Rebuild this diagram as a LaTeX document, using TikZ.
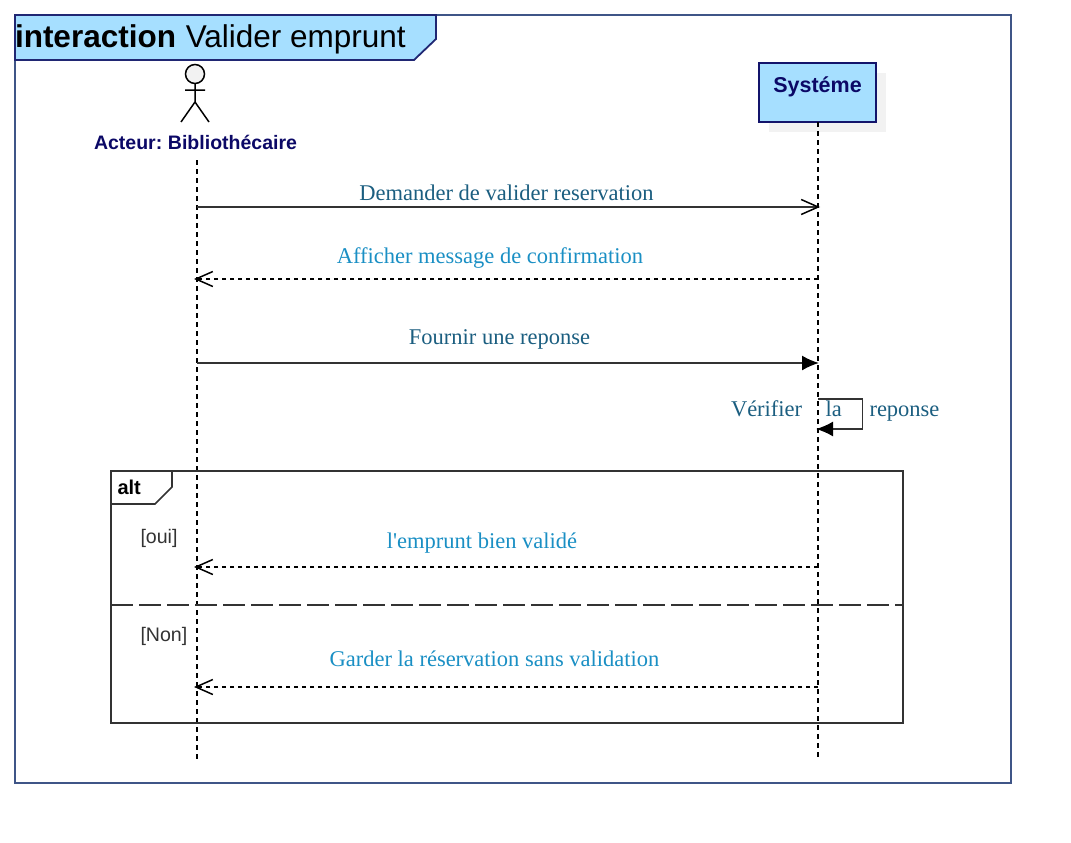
\documentclass[tikz,border=0pt]{standalone}
\usepackage{fontspec}
\setmainfont{Liberation Sans}
\newfontfamily\serifmsg{Liberation Serif}
\usetikzlibrary{arrows.meta}
\definecolor{framec}{HTML}{3F5587}
\definecolor{fillc}{HTML}{A6DFFF}
\definecolor{navyc}{HTML}{0B0866}
\definecolor{linec}{HTML}{333333}
\definecolor{msgdark}{HTML}{1B5E80}
\definecolor{msglight}{HTML}{1A8FC4}
\definecolor{shadowc}{HTML}{F2F2F2}
\tikzset{
  x=1pt,y=-1pt,
  every node/.style={outer sep=0pt},
  msgtext/.style={font=\serifmsg\fontsize{22.5}{26}\selectfont,anchor=center,inner sep=0pt},
  darkmsg/.style={msgtext,text=msgdark},
  lightmsg/.style={msgtext,text=msglight},
  guard/.style={font=\fontsize{19.6}{24}\selectfont,text=linec,anchor=west,inner sep=0pt},
  lifeline/.style={draw=black,line width=1.5pt,dash pattern=on 5pt off 4pt},
  openmsg/.style={draw=linec,line width=1.7pt,-{Straight Barb[length=17pt,width=15pt,line width=1.5pt,color=black]}},
  fullmsg/.style={draw=linec,line width=1.7pt,-{Latex[length=17pt,width=15pt,color=black]}},
  retmsg/.style={draw=black,line width=1.3pt,dash pattern=on 4pt off 4pt,-{Straight Barb[length=17pt,width=15pt,line width=1.5pt,color=black]}},
}
\begin{document}
\begin{tikzpicture}[line join=miter]
\useasboundingbox (0,0) rectangle (1071,843);
% frame
\node[draw=framec,line width=2pt,minimum width=996pt,minimum height=768pt,inner sep=0pt,anchor=north west] (frame) at (15,15) {};
\path[fill=fillc,draw=navyc!60!framec,line width=1.8pt] (15,15) -- (436,15) -- (436,39) -- (414,60) -- (15,60) -- cycle;
\node[anchor=base west,inner sep=0pt,text=black,font=\fontsize{31.5}{38}\selectfont] (title) at (15,48) {\textbf{interaction}\hspace{1pt} Valider emprunt};
% system
\fill[shadowc] (769,73) rectangle (886,132);
\node[draw=navyc!85!framec,fill=fillc,line width=1.6pt,minimum width=117pt,minimum height=59pt,inner sep=0pt,anchor=north west] (sys) at (759,63) {};
\node[anchor=center,inner sep=0pt,text=navyc,font=\bfseries\fontsize{21.5}{26}\selectfont] (systext) at (817.5,86.5) {Systéme};
% actor
\draw[draw=black,fill=shadowc,line width=1.5pt] (195,74) circle (9.5);
\draw[black,line width=1.5pt] (195,84) -- (195,102) (185,90) -- (205,90) (181,122) -- (195,102) -- (209,122);
\node[anchor=center,inner sep=0pt,text=navyc,font=\bfseries\fontsize{19.5}{24}\selectfont] (actor) at (195.5,142) {Acteur:\hspace{-1.5pt} Bibliothécaire};
% lifelines
\coordinate (aTop) at (197,160);
\coordinate (aBot) at (197,760);
\coordinate (sBot) at (818,758);
\draw[lifeline] (aTop) -- (aBot);
\draw[lifeline] (sys.south -| sBot) -- (sBot);
% messages
\coordinate (a1) at (197,207); \coordinate (s1) at (820,207);
\coordinate (a2) at (194,279); \coordinate (s2) at (818,279);
\coordinate (a3) at (197,363); \coordinate (s3) at (819,363);
\coordinate (a4) at (194,567); \coordinate (s4) at (818,567);
\coordinate (a5) at (194,687); \coordinate (s5) at (818,687);
\draw[openmsg] (a1) -- (s1);
\draw[retmsg] (s2) -- (a2);
\draw[fullmsg] (a3) -- (s3);
\draw[retmsg] (s4) -- (a4);
\draw[retmsg] (s5) -- (a5);
\coordinate (l1) at (818,399); \coordinate (l2) at (862.5,399); \coordinate (l3) at (862.5,429); \coordinate (l4) at (816,429);
\draw[fullmsg] (l1) -- (l2) -- (l3) -- (l4);
\node[darkmsg] (m1) at (506.5,192.5) {Demander de valider reservation};
\node[lightmsg] (m2) at (490,258) {Afficher message de confirmation};
\node[darkmsg] (m3) at (499.5,339) {Fournir une reponse};
\node[darkmsg,anchor=base west] (m4a) at (731,416) {Vérifier};
\node[darkmsg,anchor=base west] (m4b) at (825.5,416) {la};
\node[darkmsg,anchor=base west] (m4c) at (869.5,416) {reponse};
\node[lightmsg] (m5) at (482,543) {l'emprunt bien validé};
\node[lightmsg] (m6) at (494.5,658.5) {Garder la réservation sans validation};
% alt
\node[draw=linec,line width=1.8pt,minimum width=792pt,minimum height=252pt,inner sep=0pt,anchor=north west] (alt) at (111,471) {};
\draw[draw=linec,line width=1.6pt] (111,504) -- (155,504) -- (172,487) -- (172,471);
\node[anchor=west,inner sep=0pt,text=black,font=\bfseries\fontsize{20}{24}\selectfont] (alttext) at (117.5,487.5) {alt};
\draw[draw=linec,line width=2pt,dash pattern=on 22pt off 6pt] (alt.west |- 0,605) -- (alt.east |- 0,605);
\node[guard] (g1) at (140.5,538) {[oui]};
\node[guard] (g2) at (140.5,636) {[Non]};
\end{tikzpicture}
\end{document}
